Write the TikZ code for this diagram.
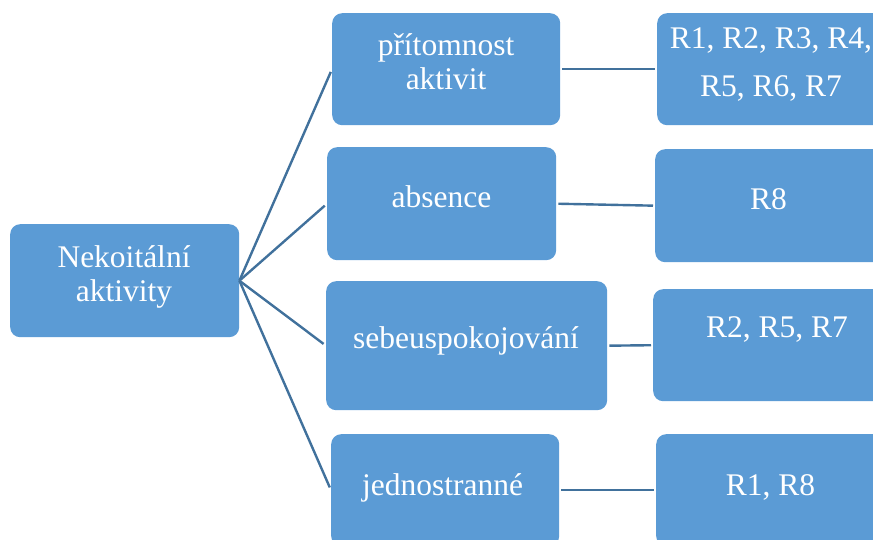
\documentclass[tikz,border=0pt]{standalone}
\usepackage{fontspec}
\setmainfont{Liberation Serif}
\definecolor{boxfill}{RGB}{91,155,213}
\definecolor{linkcol}{RGB}{65,113,156}
\begin{document}
\begin{tikzpicture}[x=1pt,y=-1pt,
  card/.style={draw=none,fill=boxfill,rounded corners=10pt,anchor=north west,inner sep=0pt},
  txt/.style={text=white,font=\fontsize{31.5}{34}\selectfont,inner sep=0pt,anchor=base},
  link/.style={draw=linkcol,line width=2.4pt}]
\useasboundingbox (0,0) rectangle (873,540);
\clip (0,0) rectangle (873,540);

% boxes: root, middle column, right column
\node[card,minimum width=229pt,minimum height=113pt] (root) at (10,224) {};
\node[card,minimum width=228pt,minimum height=112pt] (b1) at (332,13) {};
\node[card,minimum width=229pt,minimum height=113pt] (b2) at (327,147) {};
\node[card,minimum width=281pt,minimum height=129pt] (b3) at (326,281) {};
\node[card,minimum width=228pt,minimum height=112pt] (b4) at (331,434) {};
\node[card,minimum width=228pt,minimum height=112pt] (r1) at (657,13) {};
\node[card,minimum width=228pt,minimum height=113pt] (r2) at (655,149) {};
\node[card,minimum width=248pt,minimum height=112pt] (r3) at (653,289) {};
\node[card,minimum width=228pt,minimum height=112pt] (r4) at (656,434) {};

% texts
\node[txt] (tr1) at (124,268) {Nekoitální};
\node[txt] (tr2) at (124,301) {aktivity};
\node[txt] (tb1a) at (446,56) {přítomnost};
\node[txt] (tb1b) at (446,90) {aktivit};
\node[txt] (tb2) at (441.5,208) {absence};
\node[txt] (tb3) at (466,348) {sebeuspokojování};
\node[txt] (tb4) at (442.5,495) {jednostranné};
\node[txt] (tr1a) at (771,49) {R1, R2, R3, R4,};
\node[txt] (tr1b) at (771,97) {R5, R6, R7};
\node[txt] (tr2t) at (768.5,210) {R8};
\node[txt] (tr3t) at (777,337) {R2, R5, R7};
\node[txt] (tr4t) at (770.5,495) {R1, R8};

% connectors
\draw[link,shorten >=3pt] (root.east) -- (b1.west);
\draw[link,shorten >=3pt] (root.east) -- (b2.west);
\draw[link,shorten >=3pt] (root.east) -- (b3.west);
\draw[link,shorten >=3pt] (root.east) -- (b4.west);
\draw[link,shorten <=2pt,shorten >=2pt] (b1.east) -- (r1.west);
\draw[link,shorten <=2pt,shorten >=2pt] (b2.east) -- (r2.west);
\draw[link,shorten <=2pt,shorten >=2pt] (b3.east) -- (r3.west);
\draw[link,shorten <=2pt,shorten >=2pt] (b4.east) -- (r4.west);
\end{tikzpicture}
\end{document}
